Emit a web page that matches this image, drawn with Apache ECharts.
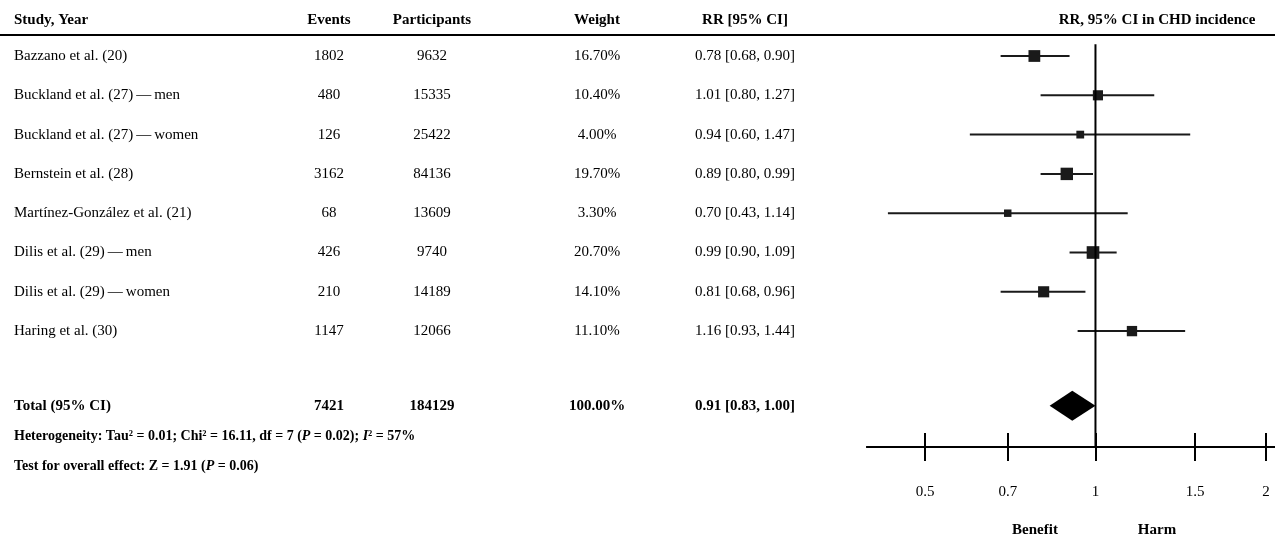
<!DOCTYPE html>
<html>
<head>
<meta charset="utf-8">
<script src="https://cdn.jsdelivr.net/npm/echarts@6/dist/echarts.min.js"></script>
<style>html,body{margin:0;padding:0;background:#fff}#main{width:1275px;height:540px}</style>
</head>
<body>
<div id="main"></div>
<script>
// 数据
const studies = ['Bazzano et al. (20)', 'Buckland et al. (27)\u2009\u2014\u2009men', 'Buckland et al. (27)\u2009\u2014\u2009women',
  'Bernstein et al. (28)', 'Martínez-González et al. (21)', 'Dilis et al. (29)\u2009\u2014\u2009men',
  'Dilis et al. (29)\u2009\u2014\u2009women', 'Haring et al. (30)'];
const events = [1802, 480, 126, 3162, 68, 426, 210, 1147];
const participants = [9632, 15335, 25422, 84136, 13609, 9740, 14189, 12066];
const weights = [16.7, 10.4, 4.0, 19.7, 3.3, 20.7, 14.1, 11.1];
const rr = [0.78, 1.01, 0.94, 0.89, 0.70, 0.99, 0.81, 1.16];
const lower = [0.68, 0.80, 0.60, 0.80, 0.43, 0.90, 0.68, 0.93];
const upper = [0.90, 1.27, 1.47, 0.99, 1.14, 1.09, 0.96, 1.44];
const total = { events: 7421, participants: 184129, weight: '100.00%', rr: 0.91, lo: 0.83, hi: 1.00 };
const tickValues = [0.5, 0.7, 1, 1.5, 2];

const rowY = i => 56 + i * 39.3; // 行位置（像素）
const totalRow = 8.9;
const font = 'Liberation Serif';
const f2 = v => v.toFixed(2);

const myChart = echarts.init(document.getElementById('main'));

const graphics = [];
const txt = (x, y, text, align, bold) => graphics.push({
  type: 'text', x, y, style: { text, fill: '#000', font: (bold ? 'bold ' : '') + '15px "' + font + '"',
    textAlign: align, textVerticalAlign: 'middle' }
});
// 表头
txt(14, 20, 'Study, Year', 'left', true);
txt(329, 20, 'Events', 'center', true);
txt(432, 20, 'Participants', 'center', true);
txt(597, 20, 'Weight', 'center', true);
txt(745, 20, 'RR [95% CI]', 'center', true);
txt(1157, 20, 'RR, 95% CI in CHD incidence', 'center', true);
graphics.push({ type: 'line', shape: { x1: 0, y1: 35, x2: 1275, y2: 35 }, style: { stroke: '#000', lineWidth: 2 } });
studies.forEach((s, i) => {
  const y = rowY(i);
  txt(14, y, s, 'left');
  txt(329, y, String(events[i]), 'center');
  txt(432, y, String(participants[i]), 'center');
  txt(597, y, weights[i].toFixed(2) + '%', 'center');
  txt(745, y, f2(rr[i]) + ' [' + f2(lower[i]) + ', ' + f2(upper[i]) + ']', 'center');
});
const ty = rowY(totalRow);
txt(14, ty, 'Total (95% CI)', 'left', true);
txt(329, ty, String(total.events), 'center', true);
txt(432, ty, String(total.participants), 'center', true);
txt(597, ty, total.weight, 'center', true);
txt(745, ty, f2(total.rr) + ' [' + f2(total.lo) + ', ' + f2(total.hi) + ']', 'center', true);
const richStyle = { b: { font: 'bold 14px "' + font + '"', fill: '#000' }, i: { font: 'italic bold 14px "' + font + '"', fill: '#000' } };
graphics.push({ type: 'text', x: 14, y: 436, style: { text: '{b|Heterogeneity: Tau² = 0.01; Chi² = 16.11, df = 7 (}{i|P}{b| = 0.02); }{i|I}{b|² = 57%}', rich: richStyle, textVerticalAlign: 'middle' } });
graphics.push({ type: 'text', x: 14, y: 466, style: { text: '{b|Test for overall effect: Z = 1.91 (}{i|P}{b| = 0.06)}', rich: richStyle, textVerticalAlign: 'middle' } });
txt(1035, 530, 'Benefit', 'center', true);
txt(1157, 530, 'Harm', 'center', true);

const xMin = -0.929, xMax = 0.73;
const yMin = -56 / 39.3, yMax = yMin + 447 / 39.3;
const forestData = rr.map((v, i) => [Math.log(v), i, Math.log(lower[i]), Math.log(upper[i]), weights[i]]);
const tickPos = tickValues.map(Math.log);
const axisBase = {
  type: 'value', min: xMin, max: xMax, position: 'bottom',
  axisLine: { show: true, onZero: false, lineStyle: { color: '#000', width: 2 } },
  splitLine: { show: false }
};
const gridBox = { left: 867, right: 0, top: 0, height: 447 };

myChart.setOption({
  animation: false,
  graphic: graphics,
  grid: [gridBox, gridBox],
  xAxis: [
    Object.assign({}, axisBase, {
      gridIndex: 0,
      axisTick: { show: true, inside: false, length: 14, lineStyle: { color: '#000', width: 2 }, customValues: tickPos },
      axisLabel: { show: true, margin: 38, color: '#000', fontSize: 15, fontFamily: font,
        customValues: tickPos, formatter: v => String(Math.round(Math.exp(v) * 10) / 10) }
    }),
    Object.assign({}, axisBase, {
      gridIndex: 1,
      axisTick: { show: true, inside: true, length: 14, lineStyle: { color: '#000', width: 2 }, customValues: tickPos },
      axisLabel: { show: false }
    })
  ],
  yAxis: [
    { type: 'value', gridIndex: 0, min: yMin, max: yMax, inverse: true, show: false },
    { type: 'value', gridIndex: 1, min: yMin, max: yMax, inverse: true, show: false }
  ],
  series: [
    {
      type: 'line', silent: true, symbol: 'none',
      lineStyle: { color: '#000', width: 2 },
      data: [[Math.log(1), -0.3], [Math.log(1), yMax]]
    },
    {
      type: 'custom', silent: true,
      renderItem: (params, api) => {
        const c = api.coord([api.value(0), api.value(1)]);
        const l = api.coord([api.value(2), api.value(1)]);
        const h = api.coord([api.value(3), api.value(1)]);
        const s = 4 + Math.sqrt(api.value(4)) * 1.9;
        return {
          type: 'group', children: [
            { type: 'line', shape: { x1: l[0], y1: l[1], x2: h[0], y2: h[1] }, style: { stroke: '#1a1a1a', lineWidth: 2 } },
            { type: 'rect', shape: { x: c[0] - s / 2, y: c[1] - s / 2, width: s, height: s }, style: { fill: '#1a1a1a' } }
          ]
        };
      },
      data: forestData
    },
    {
      type: 'custom', silent: true,
      renderItem: (params, api) => {
        const c = api.coord([api.value(0), api.value(1)]);
        const l = api.coord([api.value(2), api.value(1)]);
        const h = api.coord([api.value(3), api.value(1)]);
        return {
          type: 'polygon',
          shape: { points: [[l[0], c[1]], [c[0], c[1] - 15], [h[0], c[1]], [c[0], c[1] + 15]] },
          style: { fill: '#000' }
        };
      },
      data: [[Math.log(total.rr), totalRow, Math.log(total.lo), Math.log(total.hi)]]
    }
  ]
});
</script>
</body>
</html>
